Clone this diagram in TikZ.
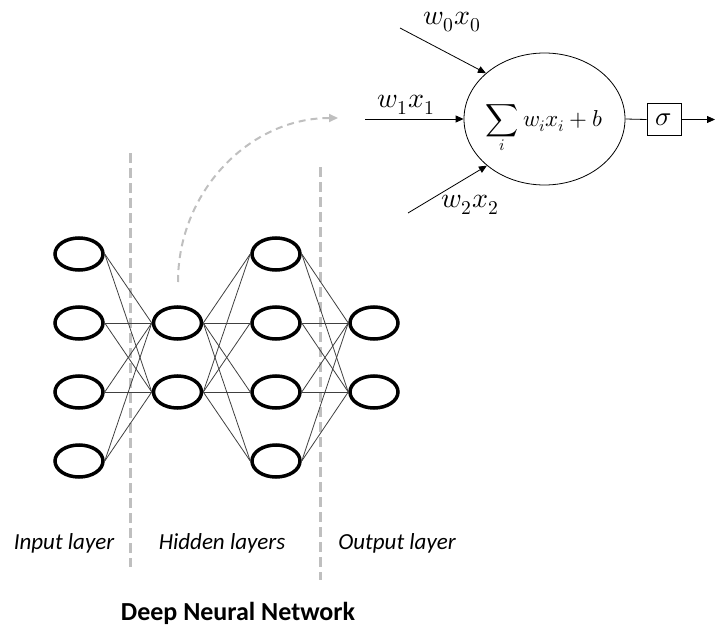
\documentclass[tikz,border=0pt]{standalone}
\usepackage{fontspec}
\usepackage{unicode-math}
\setmainfont{Carlito}
\setmathfont{Latin Modern Math}
\usetikzlibrary{shapes.geometric,arrows.meta}
\definecolor{dashgray}{RGB}{191,191,191}
\definecolor{wire}{RGB}{64,64,64}
\begin{document}
\begin{tikzpicture}[x=1pt,y=-1pt,
  unit/.style={ellipse,draw,line width=3.5pt,minimum width=48pt,minimum height=32pt,inner sep=0pt},
  wirel/.style={wire,line width=0.8pt},
  sep/.style={dashgray,line width=3pt,dash pattern=on 10pt off 5pt},
  lbl/.style={font=\fontsize{23}{28}\selectfont\itshape,anchor=base},
  title/.style={font=\fontsize{26}{31}\selectfont\bfseries,anchor=base},
  mathlbl/.style={font=\fontsize{28}{32}\selectfont,inner sep=0pt},
  mathin/.style={font=\fontsize{23}{27}\selectfont,inner sep=0pt},
  sigmat/.style={font=\fontsize{27}{30}\selectfont},
  arr/.style={-{Triangle[length=8pt,width=7pt]},line width=0.8pt}
]
\useasboundingbox (0,0) rectangle (715,626);
% separators
\coordinate (s1t) at (130,153); \coordinate (s1b) at (130,567);
\coordinate (s2t) at (320,167); \coordinate (s2b) at (320,580);
\draw[sep] (s1t) -- (s1b);
\draw[sep] (s2t) -- (s2b);
% curved arrow
\coordinate (cs) at (178,282); \coordinate (ce) at (338,118);
\draw[dashgray,line width=2pt,dash pattern=on 7pt off 5pt,-{Triangle[length=9pt,width=8pt]}] (cs) .. controls (178,191) and (250,118) .. (ce);
% network nodes
\foreach \k/\y in {1/254,2/323,3/392,4/461}{
  \node[unit] (i\k) at (79,\y) {};
  \node[unit] (g\k) at (276,\y) {};
}
\foreach \k/\y in {1/323,2/392}{
  \node[unit] (h\k) at (177.5,\y) {};
  \node[unit] (o\k) at (374,\y) {};
}
\foreach \a in {1,...,4}{
  \foreach \b in {1,2}{
    \draw[wirel] (i\a.east) -- (h\b.west);
    \draw[wirel] (h\b.east) -- (g\a.west);
    \draw[wirel] (g\a.east) -- (o\b.west);
  }
}
% neuron
\node[ellipse,draw,line width=0.8pt,minimum width=161pt,minimum height=132pt,inner sep=0pt] (n) at (544.5,119) {};
\node[mathin] (sumtxt) at (544.5,129) {$\displaystyle\sum_i w_i x_i + b$};
\node[draw,line width=0.8pt,minimum width=34pt,minimum height=32pt,inner sep=0pt,sigmat] (s) at (664,119.5) {$\sigma$};
\coordinate (a0) at (400,28);
\coordinate (a1) at (365,119);
\coordinate (a2) at (408,213);
\coordinate (out) at (715,119.5);
\draw[arr] (a0) -- (n.142);
\draw[arr] (a1) -- (n.west);
\draw[arr] (a2) -- (n.219);
\draw[line width=0.8pt] (n.east) -- (s.west);
\draw[arr] (s.east) -- (out);
\node[mathlbl] (l0) at (452,22) {$w_0x_0$};
\node[mathlbl] (l1) at (406,105) {$w_1x_1$};
\node[mathlbl] (l2) at (470,205) {$w_2x_2$};
% labels
\node[lbl] (tin) at (64,549) {Input layer};
\node[lbl] (thid) at (222,549) {Hidden layers};
\node[lbl] (tout) at (397,549) {Output layer};
\node[title] (ttl) at (238,620) {Deep Neural Network};
\end{tikzpicture}
\end{document}
